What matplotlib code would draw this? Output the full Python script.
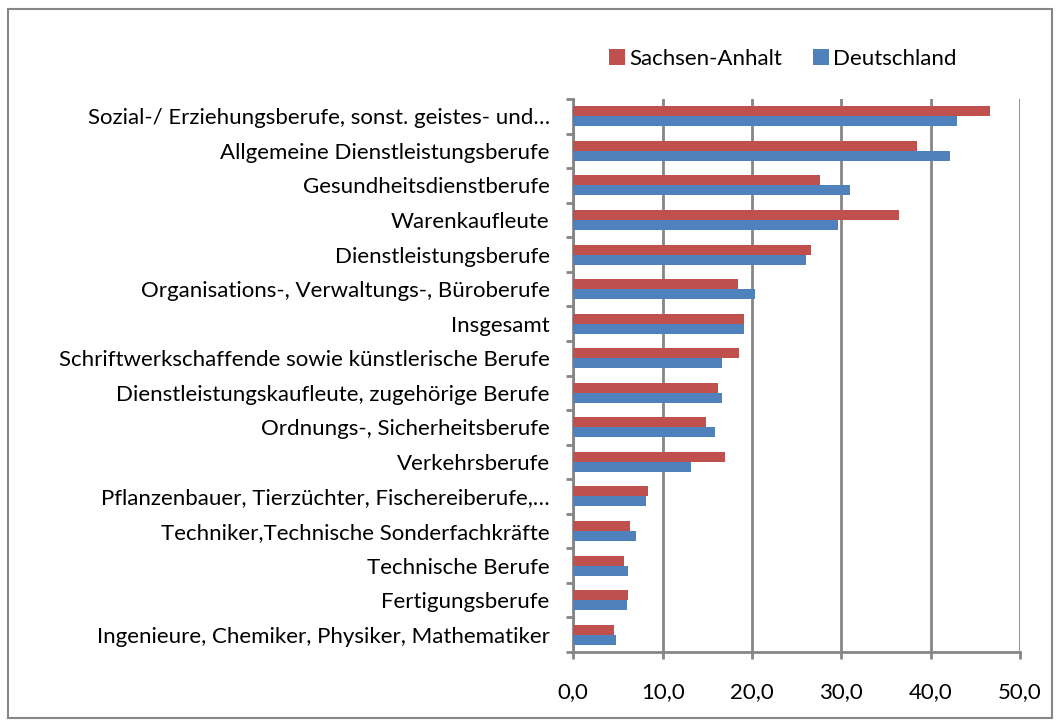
import matplotlib
matplotlib.use("Agg")
import matplotlib.pyplot as plt
from matplotlib.patches import Rectangle
import numpy as np

categories = [
    "Sozial-/ Erziehungsberufe, sonst. geistes- und…",
    "Allgemeine Dienstleistungsberufe",
    "Gesundheitsdienstberufe",
    "Warenkaufleute",
    "Dienstleistungsberufe",
    "Organisations-, Verwaltungs-, Büroberufe",
    "Insgesamt",
    "Schriftwerkschaffende sowie künstlerische Berufe",
    "Dienstleistungskaufleute, zugehörige Berufe",
    "Ordnungs-, Sicherheitsberufe",
    "Verkehrsberufe",
    "Pflanzenbauer, Tierzüchter, Fischereiberufe,…",
    "Techniker,Technische Sonderfachkräfte",
    "Technische Berufe",
    "Fertigungsberufe",
    "Ingenieure, Chemiker, Physiker, Mathematiker",
]
sachsen_anhalt = [46.6, 38.5, 27.6, 36.5, 26.6, 18.4, 19.1, 18.6, 16.2, 14.9, 17.0, 8.4, 6.3, 5.7, 6.1, 4.5]
deutschland = [43.0, 42.2, 31.0, 29.6, 26.0, 20.3, 19.1, 16.6, 16.6, 15.9, 13.2, 8.1, 7.0, 6.1, 6.0, 4.8]
series_names = ["Sachsen-Anhalt", "Deutschland"]
xticks = [0, 10, 20, 30, 40, 50]
xtick_labels = ["0,0", "10,0", "20,0", "30,0", "40,0", "50,0"]

plt.rcParams['font.family'] = ['Lato', 'DejaVu Sans']
RED = "#C0504D"
BLUE = "#4F81BD"
GRID = "#868686"
FS = 16

fig = plt.figure(figsize=(10.60, 7.27), dpi=100)
fig.patches.append(Rectangle((8/1060, 9/727), 1044/1060, 709/727, transform=fig.transFigure,
                             fill=False, edgecolor=GRID, linewidth=1.5))
ax = fig.add_axes([573.3/1060, 1-652/727, (1020-573.3)/1060, (652-99)/727])

y = np.arange(len(categories))
h = 0.29
ax.barh(y - h/2, sachsen_anhalt, height=h, color=RED, label=series_names[0], zorder=3)
ax.barh(y + h/2, deutschland, height=h, color=BLUE, label=series_names[1], zorder=3)

ax.set_ylim(len(categories) - 0.5, -0.5)
ax.set_xlim(0, 50)
ax.set_xticks(xticks)
ax.set_xticklabels(xtick_labels, fontsize=FS)
ax.set_yticks(y)
ax.set_yticklabels(categories, fontsize=FS)
ax.set_yticks(np.arange(-0.5, len(categories), 1), minor=True)
ax.tick_params(axis='y', which='major', length=0, pad=17)
ax.tick_params(axis='y', which='minor', length=5, width=2, color=GRID)
ax.tick_params(axis='x', which='major', length=5, width=2, color=GRID, pad=17)
ax.xaxis.grid(True, color=GRID, linewidth=2, zorder=0)
ax.set_axisbelow(True)
for s in ['top', 'right']:
    ax.spines[s].set_visible(False)
for s in ['left', 'bottom']:
    ax.spines[s].set_color(GRID)
    ax.spines[s].set_linewidth(2)

fig.legend(loc='center', bbox_to_anchor=(783/1060, 1-59/727), ncol=2, frameon=False,
           fontsize=FS, handlelength=0.7, handleheight=0.7, handletextpad=0.2, columnspacing=1.4)

fig.savefig("out.png", dpi=100)
